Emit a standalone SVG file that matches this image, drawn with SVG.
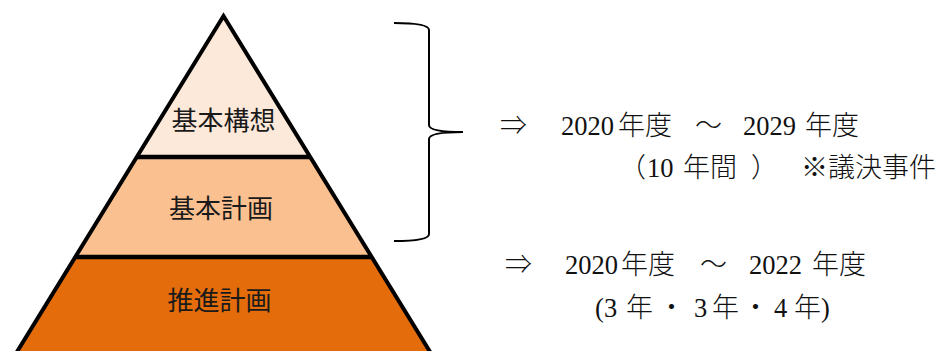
<svg xmlns="http://www.w3.org/2000/svg" width="948" height="351" viewBox="0 0 948 351">
<style>
.band{stroke:#000;stroke-width:4;stroke-linejoin:miter}
.sep{stroke:#000;stroke-width:4.5}
.lbl{font-family:"Noto Sans CJK JP","Noto Sans",sans-serif;font-size:26px;fill:#1a1a1a;text-anchor:middle}
.note{font-family:"Liberation Serif","DejaVu Serif","Noto Sans CJK JP",serif;font-size:26.5px;fill:#111}
.cjk{font-family:"Noto Sans CJK JP",sans-serif;font-size:27px;font-weight:300}
.brace{fill:none;stroke:#000;stroke-width:2}
</style>
<rect width="948" height="351" fill="#fff"/>
<g id="node-kihon-koso">
<polygon points="223.5,16 310.2,157 136.8,157" fill="#FDE9D9"/>
<text class="lbl" x="223.5" y="130">基本構想</text>
</g>
<g id="node-kihon-keikaku">
<polygon points="136.8,157 310.2,157 371.7,257 75.3,257" fill="#FAC090"/>
<text class="lbl" x="221" y="218">基本計画</text>
</g>
<g id="node-suishin-keikaku">
<polygon points="75.3,257 371.7,257 441.2,370 5.8,370" fill="#E46C0A"/>
<text class="lbl" x="219.5" y="310">推進計画</text>
</g>
<g id="outline">
<polygon class="band" points="223.5,16 441.2,370 5.8,370" fill="none"/>
<line class="sep" x1="136.8" y1="157" x2="310.2" y2="157"/>
<line class="sep" x1="75.3" y1="257" x2="371.7" y2="257"/>
</g>
<g id="connectors">
<path class="brace" d="M394,23 Q429,23 429,30 L429,125 Q429,132 463,132 Q429,132 429,139 L429,234 Q429,241 394,241"/>
</g>
<g id="note-upper">
<text class="note" y="135"><tspan class="cjk" x="500">⇒</tspan><tspan x="561">2020</tspan><tspan class="cjk" x="618">年度</tspan><tspan class="cjk" x="695">～</tspan><tspan x="743">2029</tspan><tspan class="cjk" x="805">年度</tspan></text>
<text class="note" y="177"><tspan class="cjk" x="619">（</tspan><tspan x="647">10</tspan><tspan class="cjk" x="683">年間</tspan><tspan class="cjk" x="751">）</tspan><tspan class="cjk" x="801">※議決事件</tspan></text>
</g>
<g id="note-lower">
<text class="note" y="274"><tspan class="cjk" x="505">⇒</tspan><tspan x="565">2020</tspan><tspan class="cjk" x="621">年度</tspan><tspan class="cjk" x="700">～</tspan><tspan x="749">2022</tspan><tspan class="cjk" x="812">年度</tspan></text>
<text class="note" y="317"><tspan x="595">(</tspan><tspan x="604">3</tspan><tspan class="cjk" x="626">年</tspan><tspan class="cjk" x="658">・</tspan><tspan x="694">3</tspan><tspan class="cjk" x="712">年</tspan><tspan class="cjk" x="742">・</tspan><tspan x="774">4</tspan><tspan class="cjk" x="794">年</tspan><tspan x="821">)</tspan></text>
</g>
</svg>
